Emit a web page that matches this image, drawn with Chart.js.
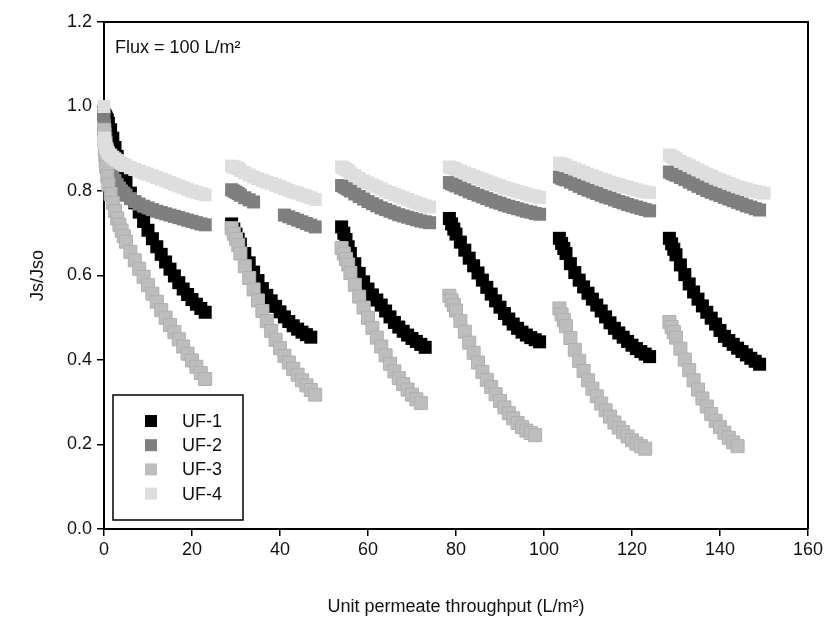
<!DOCTYPE html>
<html>
<head>
<meta charset="utf-8">
<script src="https://cdn.jsdelivr.net/npm/chart.js@4.4.1/dist/chart.umd.min.js"></script>
<style>
  html, body { margin: 0; padding: 0; background: #fff; }
</style>
</head>
<body>
<canvas id="fluxChart" width="833" height="625"></canvas>
<script>
// unit permeate throughput (L/m2), six filtration cycles
const throughput = [
    0, 0.1, 0.2, 0.3, 0.4, 0.5, 0.75, 1, 1.5, 2, 2.5, 3, 3.5, 4, 4.5, 5, 6, 7, 8, 9, 10, 11, 12, 13, 14, 15, 16, 17, 18, 19, 20, 21, 22, 23,
    29, 29.5, 30, 30.5, 31, 32, 33, 34, 35, 36, 37, 38, 39, 40, 41, 42, 43, 44, 45, 46, 47, 48,
    54, 54.5, 55, 55.5, 56, 57, 58, 59, 60, 61, 62, 63, 64, 65, 66, 67, 68, 69, 70, 71, 72, 73, 74,
    78.5, 79, 79.5, 80, 81, 82, 83, 84, 85, 86, 87, 88, 89, 90, 91, 92, 93, 94, 95, 96, 97, 98, 99,
    103.5, 104, 104.5, 105, 106, 107, 108, 109, 110, 111, 112, 113, 114, 115, 116, 117, 118, 119, 120, 121, 122, 123, 124,
    128.5, 129, 129.5, 130, 131, 132, 133, 134, 135, 136, 137, 138, 139, 140, 141, 142, 143, 144, 145, 146, 147, 148, 149, 150
];

// Js/Jso per membrane (null = no point)
const uf1 = [
    0.98, 0.98, 0.978, 0.976, 0.974, 0.972, 0.968, 0.96, 0.945, 0.925, 0.903, 0.882, 0.864, 0.848, 0.834, 0.82, 0.795, 0.772, 0.75, 0.728, 0.707, 0.687, 0.668, 0.65, 0.632, 0.615, 0.599, 0.583, 0.568, 0.555, 0.543, 0.532, 0.522, 0.513,
    0.722, 0.71, 0.698, 0.686, 0.674, 0.652, 0.63, 0.608, 0.588, 0.569, 0.553, 0.54, 0.527, 0.514, 0.502, 0.491, 0.481, 0.473, 0.466, 0.46, 0.454, null,
    0.715, 0.7, 0.685, 0.668, 0.652, 0.628, 0.605, 0.585, 0.568, 0.554, 0.542, 0.53, 0.516, 0.502, 0.489, 0.478, 0.468, 0.459, 0.451, 0.444, 0.437, 0.43, null,
    0.735, 0.722, 0.71, 0.698, 0.679, 0.66, 0.641, 0.623, 0.606, 0.589, 0.572, 0.556, 0.54, 0.525, 0.51, 0.497, 0.485, 0.475, 0.466, 0.459, 0.453, 0.448, 0.443,
    0.688, 0.676, 0.664, 0.652, 0.628, 0.607, 0.589, 0.573, 0.558, 0.544, 0.53, 0.516, 0.502, 0.488, 0.475, 0.464, 0.454, 0.444, 0.435, 0.427, 0.42, 0.414, 0.408,
    0.688, 0.675, 0.662, 0.649, 0.625, 0.602, 0.58, 0.561, 0.544, 0.528, 0.513, 0.499, 0.485, 0.47, 0.456, 0.446, 0.437, 0.428, 0.42, 0.412, 0.404, 0.397, 0.39, null
];
const uf2 = [
    0.97, 0.955, 0.945, 0.935, 0.925, 0.915, 0.9, 0.882, 0.858, 0.838, 0.825, 0.815, 0.807, 0.8, 0.795, 0.79, 0.782, 0.775, 0.769, 0.764, 0.76, 0.756, 0.752, 0.749, 0.746, 0.743, 0.74, 0.737, 0.734, 0.731, 0.728, 0.725, 0.722, 0.72,
    0.803, 0.8, 0.797, 0.794, 0.79, 0.784, 0.779, 0.774, null, null, null, null, null, null, 0.743, 0.739, 0.735, 0.731, 0.727, 0.723, 0.719, 0.715,
    0.813, 0.81, 0.807, 0.804, 0.8, 0.793, 0.787, 0.781, 0.775, 0.77, 0.765, 0.76, 0.756, 0.752, 0.748, 0.744, 0.741, 0.738, 0.735, 0.732, 0.729, 0.727, 0.725,
    0.82, 0.817, 0.815, 0.812, 0.807, 0.803, 0.798, 0.794, 0.79, 0.786, 0.782, 0.778, 0.774, 0.771, 0.767, 0.764, 0.761, 0.758, 0.755, 0.752, 0.75, 0.747, 0.745,
    0.833, 0.83, 0.828, 0.826, 0.821, 0.816, 0.811, 0.806, 0.802, 0.798, 0.794, 0.79, 0.786, 0.783, 0.779, 0.775, 0.772, 0.768, 0.765, 0.762, 0.759, 0.756, 0.753,
    0.845, 0.842, 0.84, 0.837, 0.832, 0.827, 0.821, 0.816, 0.811, 0.806, 0.801, 0.797, 0.793, 0.789, 0.785, 0.781, 0.777, 0.773, 0.769, 0.765, 0.762, 0.758, 0.755, null
];
const uf3 = [
    0.945, 0.92, 0.9, 0.885, 0.87, 0.857, 0.835, 0.815, 0.793, 0.772, 0.753, 0.735, 0.72, 0.706, 0.693, 0.68, 0.656, 0.636, 0.616, 0.597, 0.577, 0.557, 0.538, 0.518, 0.5, 0.483, 0.466, 0.449, 0.432, 0.415, 0.399, 0.384, 0.369, 0.355,
    0.712, 0.699, 0.686, 0.672, 0.652, 0.622, 0.594, 0.567, 0.541, 0.516, 0.492, 0.469, 0.448, 0.428, 0.41, 0.394, 0.379, 0.365, 0.352, 0.34, 0.329, 0.318,
    0.665, 0.652, 0.639, 0.626, 0.606, 0.578, 0.55, 0.524, 0.5, 0.476, 0.453, 0.432, 0.411, 0.391, 0.373, 0.357, 0.343, 0.33, 0.318, 0.307, 0.298, null, null,
    0.552, 0.541, 0.53, 0.517, 0.492, 0.467, 0.441, 0.417, 0.394, 0.372, 0.353, 0.336, 0.319, 0.303, 0.288, 0.274, 0.262, 0.251, 0.241, 0.233, 0.227, 0.222, null,
    0.522, 0.508, 0.495, 0.48, 0.452, 0.424, 0.398, 0.374, 0.352, 0.332, 0.314, 0.297, 0.281, 0.266, 0.252, 0.24, 0.229, 0.219, 0.21, 0.202, 0.196, 0.19, null,
    0.49, 0.478, 0.466, 0.453, 0.427, 0.401, 0.376, 0.352, 0.33, 0.309, 0.29, 0.272, 0.256, 0.241, 0.228, 0.216, 0.205, 0.196, null, null, null, null, null, null
];
const uf4 = [
    1.0, 0.925, 0.915, 0.91, 0.905, 0.9, 0.895, 0.89, 0.885, 0.88, 0.876, 0.872, 0.868, 0.865, 0.862, 0.86, 0.855, 0.851, 0.847, 0.843, 0.84, 0.836, 0.832, 0.828, 0.824, 0.82, 0.816, 0.812, 0.808, 0.804, 0.8, 0.797, 0.794, 0.791,
    0.859, 0.857, 0.855, 0.853, 0.848, 0.843, 0.838, 0.833, 0.829, 0.825, 0.821, 0.818, 0.814, 0.81, 0.806, 0.802, 0.798, 0.795, 0.791, 0.788, 0.784, 0.78,
    0.857, 0.854, 0.851, 0.848, 0.842, 0.836, 0.83, 0.824, 0.819, 0.814, 0.81, 0.805, 0.8, 0.796, 0.792, 0.788, 0.784, 0.78, 0.776, 0.772, 0.769, 0.765, 0.762,
    0.857, 0.855, 0.853, 0.851, 0.847, 0.843, 0.839, 0.835, 0.831, 0.827, 0.823, 0.819, 0.815, 0.812, 0.808, 0.805, 0.802, 0.799, 0.796, 0.793, 0.79, 0.788, 0.785,
    0.866, 0.864, 0.862, 0.86, 0.856, 0.852, 0.848, 0.844, 0.84, 0.836, 0.832, 0.828, 0.825, 0.821, 0.818, 0.815, 0.812, 0.809, 0.806, 0.803, 0.8, 0.798, 0.796,
    0.885, 0.882, 0.879, 0.876, 0.87, 0.865, 0.86, 0.855, 0.85, 0.845, 0.84, 0.835, 0.83, 0.826, 0.822, 0.818, 0.814, 0.81, 0.807, 0.804, 0.801, 0.799, 0.797, 0.795
];

const seriesNames = ['UF-1', 'UF-2', 'UF-3', 'UF-4'];
const seriesValues = [uf1, uf2, uf3, uf4];
const seriesColors = ['#000000', '#7f7f7f', '#bdbdbd', '#dedede'];
const seriesEdges = ['#000000', '#7f7f7f', '#b0b0b0', '#dedede'];

const xTicks = [0, 20, 40, 60, 80, 100, 120, 140, 160];
const yTicks = [0, 0.2, 0.4, 0.6, 0.8, 1.0, 1.2];

const FONT = '"Liberation Sans", Arial, Helvetica, sans-serif';
const TEXT = '#111';

function points(values) {
    return throughput
        .map((x, i) => ({ x: x, y: values[i] }))
        .filter(p => p.y !== null);
}

// later series sit on top (UF-4 uppermost), as in the original plot
const datasets = seriesNames.map((name, i) => ({
    label: name,
    data: points(seriesValues[i]),
    order: seriesNames.length - i,
    pointStyle: 'rect',
    pointRadius: 9.2,
    pointHoverRadius: 9.2,
    backgroundColor: seriesColors[i],
    borderColor: seriesEdges[i],
    borderWidth: i === 2 ? 1 : 0,
    showLine: false,
    clip: false
}));

// frame, flux note and boxed legend inside the plot
const extras = {
    id: 'extras',
    afterDraw(chart) {
        const { ctx, chartArea: a } = chart;
        ctx.save();
        ctx.strokeStyle = '#000';
        ctx.lineWidth = 2;
        ctx.beginPath();
        ctx.moveTo(a.left, a.top);
        ctx.lineTo(a.right, a.top);
        ctx.lineTo(a.right, a.bottom);
        ctx.stroke();

        ctx.fillStyle = TEXT;
        ctx.font = '18px ' + FONT;
        ctx.textBaseline = 'middle';
        ctx.textAlign = 'left';
        ctx.fillText('Flux = 100 L/m²', a.left + 11, a.top + 26);

        // legend
        const bx = a.left + 9, by = a.top + 373, bw = 130, bh = 125;
        ctx.fillStyle = '#fff';
        ctx.fillRect(bx, by, bw, bh);
        ctx.lineWidth = 1.5;
        ctx.strokeRect(bx, by, bw, bh);
        chart.data.datasets.forEach((ds, i) => {
            const cy = by + 26 + i * 24.2;
            ctx.fillStyle = ds.backgroundColor;
            ctx.fillRect(bx + 32, cy - 6, 12, 12);
            ctx.fillStyle = TEXT;
            ctx.fillText(ds.label, bx + 69, cy + 1);
        });
        ctx.restore();
    }
};

new Chart(document.getElementById('fluxChart'), {
    type: 'scatter',
    data: { datasets: datasets },
    options: {
        responsive: false,
        animation: false,
        layout: { padding: { left: 0, right: 25, top: 22, bottom: 0 } },
        plugins: {
            legend: { display: false },
            tooltip: { enabled: false }
        },
        scales: {
            x: {
                type: 'linear',
                min: xTicks[0],
                max: xTicks[xTicks.length - 1],
                afterBuildTicks: s => { s.ticks = xTicks.map(v => ({ value: v })); },
                afterFit: s => { s.height = 96; },
                ticks: {
                    color: TEXT,
                    font: { family: FONT, size: 18 },
                    padding: 3,
                    maxRotation: 0
                },
                grid: { drawOnChartArea: false, tickLength: 7, color: '#000', lineWidth: 1.5 },
                border: { color: '#000', width: 2 },
                title: {
                    display: true,
                    text: 'Unit permeate throughput (L/m²)',
                    color: TEXT,
                    font: { family: FONT, size: 18 },
                    padding: { top: 0, bottom: 7 }
                }
            },
            y: {
                type: 'linear',
                min: yTicks[0],
                max: yTicks[yTicks.length - 1],
                afterBuildTicks: s => { s.ticks = yTicks.map(v => ({ value: v })); },
                afterFit: s => { s.width = 104; },
                ticks: {
                    color: TEXT,
                    font: { family: FONT, size: 18 },
                    padding: 5,
                    callback: v => Number(v).toFixed(1)
                },
                grid: { drawOnChartArea: false, tickLength: 7, color: '#000', lineWidth: 1.5 },
                border: { color: '#000', width: 2 },
                title: {
                    display: true,
                    text: 'Js/Jso',
                    color: TEXT,
                    font: { family: FONT, size: 18 },
                    padding: { top: 27, bottom: 0 }
                }
            }
        }
    },
    plugins: [extras]
});
</script>
</body>
</html>
